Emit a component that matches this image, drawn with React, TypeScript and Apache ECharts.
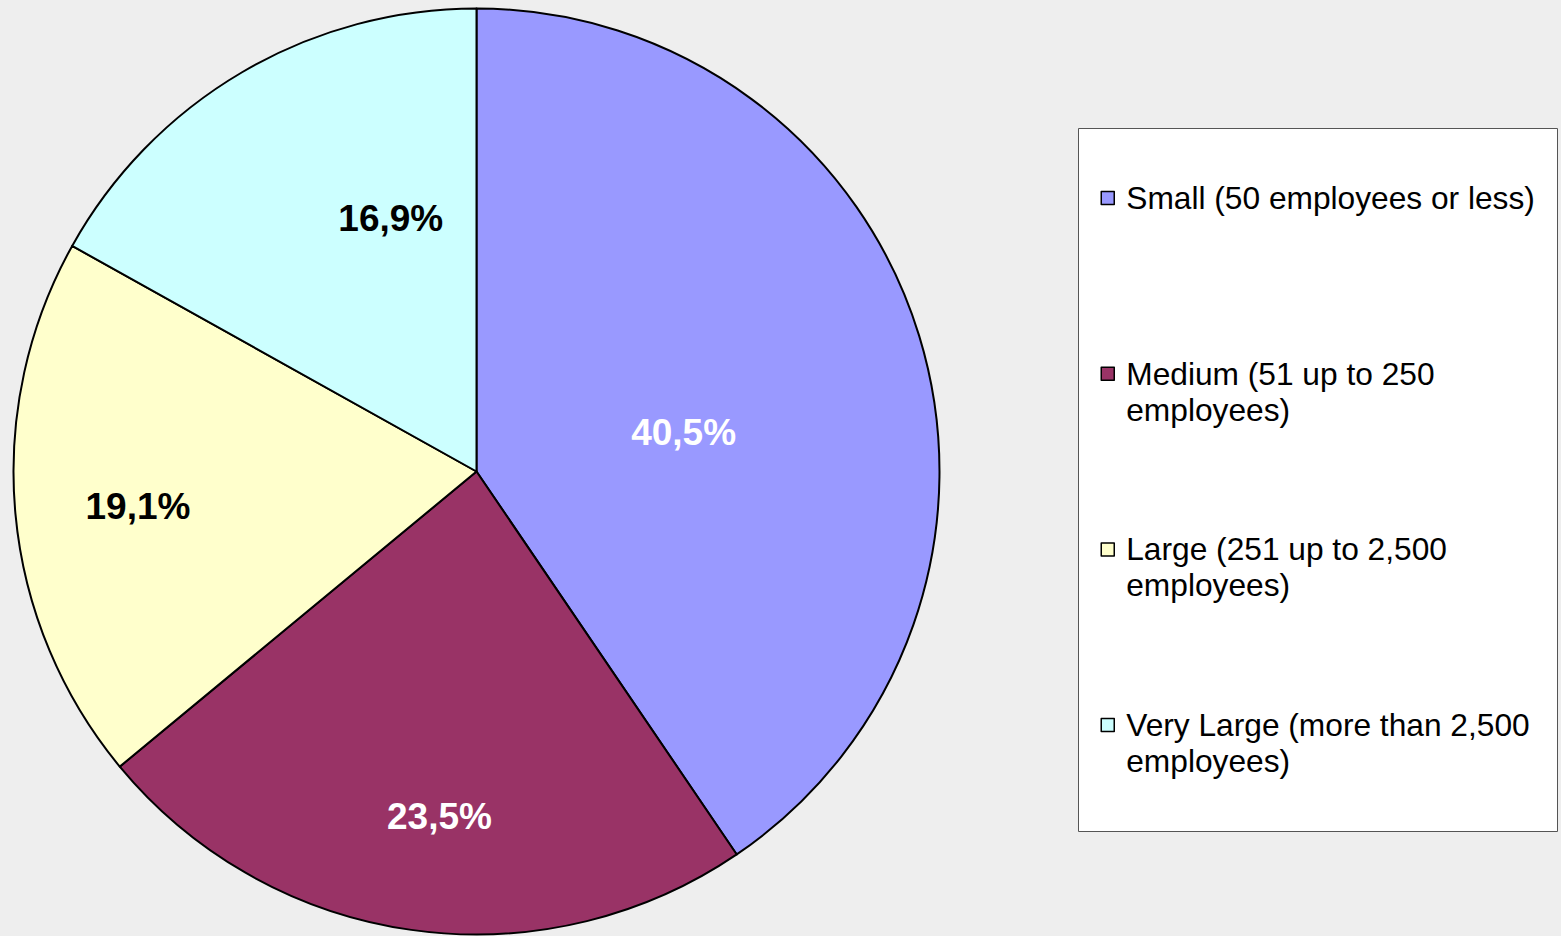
import React, { useEffect, useRef } from "react";
import * as echarts from "echarts";

const categories = [
  "Small (50 employees or less)",
  "Medium (51 up to 250 employees)",
  "Large (251 up to 2,500 employees)",
  "Very Large (more than 2,500 employees)",
];
const legendLines = [
  ["Small (50 employees or less)"],
  ["Medium (51 up to 250", "employees)"],
  ["Large (251 up to 2,500", "employees)"],
  ["Very Large (more than 2,500", "employees)"],
];
const values = [40.5, 23.5, 19.1, 16.9];
const colors = ["#9999FF", "#993366", "#FFFFCC", "#CCFFFF"];
const labelColors = ["#FFFFFF", "#FFFFFF", "#000000", "#000000"];
const labelShift = [
  [-17, 30],
  [-4, 113],
  [-105, 14],
  [33, -51],
];

const FONT = "'Liberation Sans', Arial, sans-serif";

export default function App() {
  const ref = useRef<HTMLDivElement>(null);
  useEffect(() => {
    if (!ref.current) return;
    const chart = echarts.init(ref.current, undefined, { renderer: "svg" });
    chart.setOption({
      animation: false,
      backgroundColor: "#EEEEEE",
      graphic: [
        {
          type: "rect",
          z: 0,
          shape: { x: 1078.5, y: 128.5, width: 479, height: 703 },
          style: { fill: "#FFFFFF", stroke: "#555555", lineWidth: 1 },
        },
      ],
      legend: {
        orient: "vertical",
        left: 1100.5,
        top: 144,
        padding: 0,
        itemGap: 67.7,
        itemWidth: 13,
        itemHeight: 13,
        icon: "rect",
        z: 5,
        itemStyle: { borderColor: "#000000", borderWidth: 1.5 },
        data: categories,
        formatter: (name: string) => {
          const i = categories.indexOf(name);
          const lines = legendLines[i];
          return [" ", ...lines, ...(lines.length === 1 ? [" "] : [])].join("\n");
        },
        textStyle: {
          fontFamily: FONT,
          fontSize: 31.7,
          lineHeight: 36,
          color: "#000000",
          padding: [0, 0, 0, 7],
        },
      },
      series: [
        {
          type: "pie",
          center: [476.5, 471.5],
          radius: [0, 463],
          startAngle: 90,
          clockwise: true,
          avoidLabelOverlap: false,
          itemStyle: { borderColor: "#000000", borderWidth: 2 },
          emphasis: { disabled: true },
          label: {
            show: true,
            position: "inside",
            fontFamily: FONT,
            fontSize: 37,
            fontWeight: "bold",
            formatter: (p: any) => String(p.value).replace(".", ",") + "%",
          },
          labelLayout: (p: any) => ({
            dx: labelShift[p.dataIndex][0],
            dy: labelShift[p.dataIndex][1],
          }),
          data: categories.map((name, i) => ({
            name,
            value: values[i],
            itemStyle: { color: colors[i] },
            label: { color: labelColors[i] },
          })),
        },
      ],
    });
    return () => chart.dispose();
  }, []);
  return (
    <div
      ref={ref}
      style={{ position: "fixed", left: 0, top: 0, width: 1561, height: 936 }}
    />
  );
}
